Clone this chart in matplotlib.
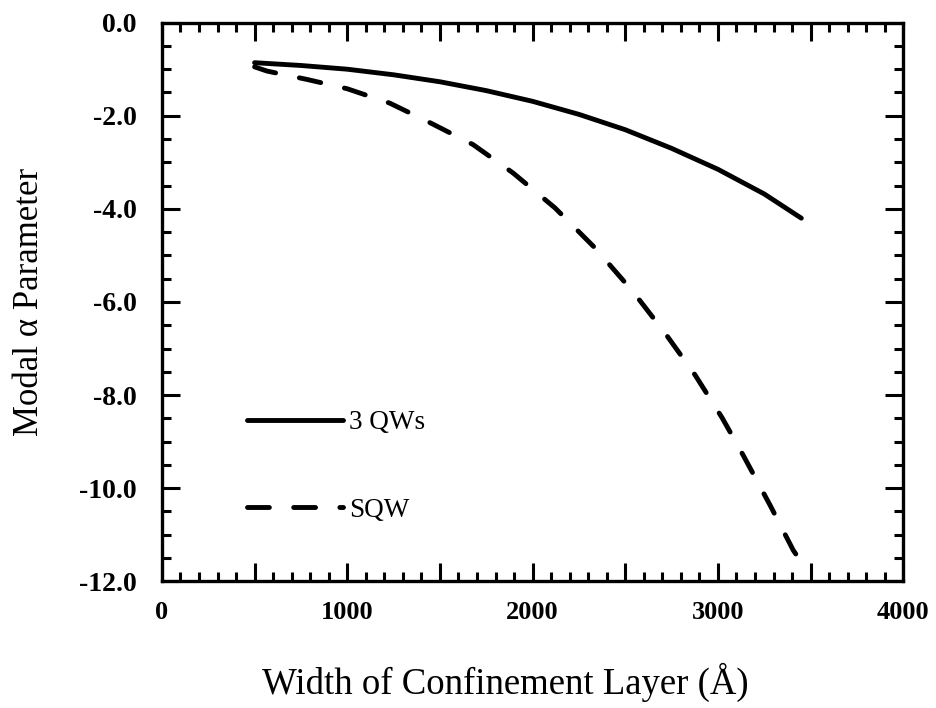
import numpy as np
import matplotlib
matplotlib.use('Agg')
import matplotlib.pyplot as plt
from matplotlib.ticker import MultipleLocator, FuncFormatter

# Data
width_3qw = [500, 750, 1000, 1250, 1500, 1750, 2000, 2250, 2500, 2750, 3000, 3250, 3450]
alpha_3qw = [-0.86, -0.92, -1.0, -1.12, -1.27, -1.46, -1.69, -1.97, -2.3, -2.7, -3.15, -3.68, -4.2]

width_sqw = [500, 567, 783, 1000, 1230, 1447, 1679, 1895, 2121, 2337, 2542, 2715,
             2877, 3023, 3136, 3282, 3406, 3455]
alpha_sqw = [-0.95, -1.04, -1.22, -1.42, -1.73, -2.15, -2.62, -3.23, -3.98, -4.84,
             -5.78, -6.67, -7.57, -8.49, -9.29, -10.37, -11.33, -11.62]

x_ticks = [0, 1000, 2000, 3000, 4000]
y_ticks = [0.0, -2.0, -4.0, -6.0, -8.0, -10.0, -12.0]

plt.rcParams['font.family'] = ['Liberation Serif', 'DejaVu Serif']

fig = plt.figure(figsize=(9.36, 7.08), dpi=100)
ax = fig.add_axes([0.173, 0.179, 0.792, 0.789])

lw = 3.5
ax.plot(width_3qw, alpha_3qw, color='black', lw=lw, solid_capstyle='round',
        solid_joinstyle='round', label='3 QWs')
ax.plot(width_sqw, alpha_sqw, color='black', lw=lw, dashes=(4.5, 5.0),
        dash_capstyle='round', dash_joinstyle='round', label='SQW')

ax.set_xlim(0, 4000)
ax.set_ylim(-12, 0)

# ticks: labelled every 1000 / 2.0, long ticks every 500, minor every 100 / 0.5
ax.xaxis.set_major_locator(MultipleLocator(500))
ax.xaxis.set_minor_locator(MultipleLocator(100))
ax.xaxis.set_major_formatter(FuncFormatter(
    lambda v, p: f'{int(round(v))}' if int(round(v)) in x_ticks else ''))
ax.yaxis.set_major_locator(MultipleLocator(2))
ax.yaxis.set_minor_locator(MultipleLocator(0.5))
ax.yaxis.set_major_formatter(FuncFormatter(
    lambda v, p: '0.0' if abs(v) < 1e-9 else f'{v:.1f}'))

ax.tick_params(which='both', direction='in', top=True, right=True,
               width=2.2, colors='black')
ax.tick_params(axis='x', labelsize=19, pad=14)
ax.tick_params(axis='y', labelsize=20, pad=18)
ax.tick_params(which='major', length=13)
ax.tick_params(which='minor', length=6.5)
for lab in ax.get_xticklabels() + ax.get_yticklabels():
    lab.set_fontweight('bold')
for s in ax.spines.values():
    s.set_linewidth(2.4)

ax.set_xlabel('Width of Confinement Layer (Å)', fontsize=26.5, va='center')
ax.xaxis.set_label_coords(0.463, -0.181)
ax.set_ylabel('Modal α Parameter', fontsize=25, va='center')
ax.yaxis.set_label_coords(-0.178, 0.5)

leg = ax.legend(loc='upper left', bbox_to_anchor=(0.097, 0.33), frameon=False,
                fontsize=19.5, handlelength=3.52, handletextpad=0.25,
                labelspacing=2.3, borderpad=0)

fig.savefig('out.png', dpi=100)
